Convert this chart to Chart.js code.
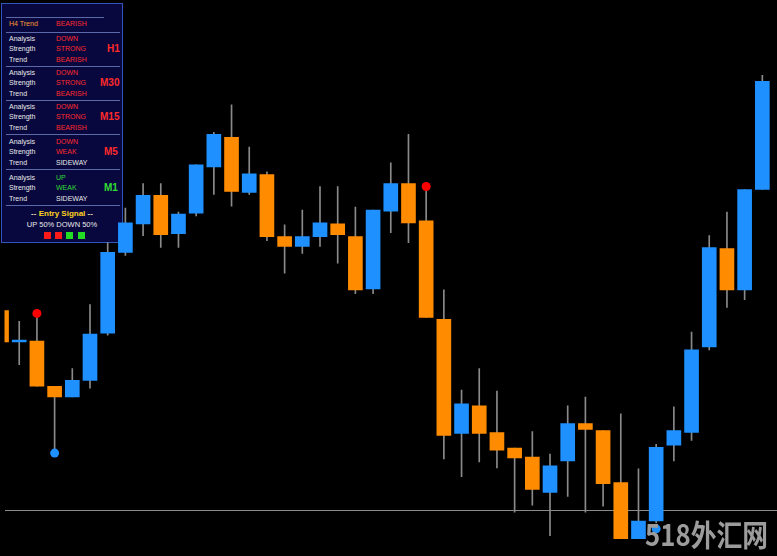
<!DOCTYPE html>
<html>
<head>
<meta charset="utf-8">
<script src="https://cdn.jsdelivr.net/npm/chart.js@4.4.1/dist/chart.umd.min.js"></script>
<style>
html, body { margin: 0; padding: 0; background: #000; overflow: hidden; }
#wrap { position: relative; width: 777px; height: 556px; }
#priceChart { position: absolute; left: 0; top: 0; z-index: 2; }
#panel {
    position: absolute; left: 1px; top: 3px; width: 120px; height: 238px; z-index: 1;
    background: #08083f; border: 1px solid #3355bb;
    font-family: "Liberation Sans", Arial, sans-serif; font-size: 7px; color: #e8e8e8;
}
#panel div { position: absolute; white-space: nowrap; line-height: 8px; }
#panel .sep { height: 1px; background: #5a6aa8; left: 4px; width: 114px; }
#panel .red { color: #ff2a2a; }
#panel .green { color: #33dd33; }
#panel .tf { font-size: 10px; font-weight: bold; line-height: 10px; }
#panel .sq { width: 7px; height: 7px; }
</style>
</head>
<body>
<div id="wrap">
<div id="panel"></div>
<canvas id="priceChart" width="777" height="556"></canvas>
</div>
<script>
// OHLC per bar (price units), oldest first
const opens  = [1968.9, 1965.7, 1965.8, 1961.2, 1960.1, 1961.8, 1966.6, 1974.8, 1977.7, 1980.6,
                1976.7, 1978.8, 1983.5, 1986.5, 1980.9, 1982.7, 1976.4, 1975.4, 1976.4, 1977.7,
                1976.4, 1971.1, 1979.0, 1981.8, 1978.0, 1968.0, 1956.4, 1959.2, 1956.5, 1954.9,
                1954.0, 1950.4, 1953.6, 1957.4, 1956.7, 1951.4, 1945.7, 1947.5, 1955.2, 1956.5,
                1965.2, 1975.2, 1971.0, 1981.2];
const highs  = [1969.4, 1967.8, 1968.2, 1961.2, 1963.0, 1969.5, 1975.8, 1979.3, 1981.8, 1981.8,
                1978.9, 1983.7, 1987.0, 1989.8, 1985.5, 1983.0, 1977.6, 1979.1, 1981.5, 1981.5,
                1979.4, 1979.1, 1983.9, 1986.8, 1981.0, 1971.0, 1960.8, 1963.0, 1960.7, 1954.9,
                1956.6, 1954.3, 1959.2, 1960.1, 1956.7, 1958.4, 1952.8, 1955.3, 1959.1, 1966.7,
                1976.5, 1978.9, 1981.2, 1992.8];
const lows   = [1965.7, 1963.4, 1961.2, 1954.8, 1960.1, 1961.0, 1966.4, 1974.5, 1976.5, 1975.3,
                1975.3, 1978.5, 1980.7, 1979.5, 1980.7, 1976.0, 1972.7, 1974.7, 1975.4, 1973.7,
                1970.6, 1970.6, 1976.8, 1975.8, 1968.2, 1953.8, 1952.0, 1953.5, 1952.9, 1948.4,
                1949.1, 1946.0, 1950.0, 1948.4, 1949.0, 1945.7, 1945.7, 1947.3, 1953.6, 1955.7,
                1964.9, 1969.2, 1970.0, 1981.2];
const closes = [1965.7, 1965.9, 1961.2, 1960.1, 1961.8, 1966.5, 1974.8, 1977.8, 1980.6, 1976.6,
                1978.7, 1983.7, 1986.8, 1981.0, 1982.8, 1976.4, 1975.4, 1976.4, 1977.8, 1976.6,
                1971.0, 1979.1, 1981.8, 1977.8, 1968.2, 1956.2, 1959.4, 1956.4, 1954.7, 1953.9,
                1950.7, 1953.1, 1957.4, 1956.8, 1951.3, 1945.7, 1947.5, 1955.0, 1956.7, 1964.9,
                1975.3, 1971.0, 1981.2, 1992.2];

// signal arrows (bar index, price)
const sellSignals = [{ x: 2, y: 1968.6 }, { x: 24, y: 1981.5 }];
const buySignals  = [{ x: 3, y: 1954.4 }, { x: 37, y: 1946.7 }];
const levelPrice = 1948.6;

const upColor = '#1e90ff';
const downColor = '#ff8c00';

const bodies = opens.map((o, i) => ({ x: i, y: [o, closes[i]] }));
const wicks = lows.map((l, i) => ({ x: i, y: [l, highs[i]] }));
const bodyColors = opens.map((o, i) => closes[i] >= o ? upColor : downColor);

const extras = {
    id: 'extras',
    beforeDatasetsDraw(chart) {
        const ctx = chart.ctx;
        const y = Math.round(chart.scales.y.getPixelForValue(levelPrice)) + 0.5;
        ctx.save();
        ctx.strokeStyle = '#8a8a8a';
        ctx.lineWidth = 1;
        ctx.beginPath();
        ctx.moveTo(5, y);
        ctx.lineTo(chart.width, y);
        ctx.stroke();
        ctx.restore();
    },
    afterDraw(chart) {
        const ctx = chart.ctx;
        ctx.save();
        ctx.font = 'bold 30px "Noto Sans CJK SC", sans-serif';
        ctx.fillStyle = '#9c9c9c';
        ctx.textBaseline = 'alphabetic';
        const txt = '518外汇网';
        const w = ctx.measureText(txt).width;
        ctx.translate(645, 546);
        ctx.scale(123 / w, 1);
        ctx.fillText(txt, 0, 0);
        ctx.restore();
    }
};

new Chart(document.getElementById('priceChart').getContext('2d'), {
    data: {
        datasets: [
            {
                type: 'bar',
                data: wicks,
                backgroundColor: '#8a8a8a',
                barThickness: 1,
                grouped: false,
                order: 3
            },
            {
                type: 'bar',
                data: bodies,
                backgroundColor: bodyColors,
                barThickness: 14,
                grouped: false,
                borderSkipped: false,
                order: 2
            },
            {
                type: 'scatter',
                data: sellSignals,
                pointRadius: 4.5,
                pointBackgroundColor: '#ff0000',
                pointBorderWidth: 0,
                order: 1
            },
            {
                type: 'scatter',
                data: buySignals,
                pointRadius: 4.5,
                pointBackgroundColor: '#1e90ff',
                pointBorderWidth: 0,
                order: 1
            }
        ]
    },
    options: {
        responsive: false,
        animation: false,
        layout: { padding: 0 },
        plugins: { legend: { display: false }, tooltip: { enabled: false } },
        scales: {
            x: { type: 'linear', min: 0.1676, max: 43.575, offset: false, display: false },
            y: { min: 1944.4, max: 2000, display: false }
        }
    },
    plugins: [extras]
});

// signal panel
const panel = document.getElementById('panel');
function put(text, x, y, cls, color) {
    const d = document.createElement('div');
    d.textContent = text;
    d.style.left = x + 'px';
    d.style.top = y + 'px';
    if (cls) d.className = cls;
    if (color) d.style.color = color;
    panel.appendChild(d);
    return d;
}
function sep(y, x, w) {
    const d = document.createElement('div');
    d.className = 'sep';
    d.style.top = y + 'px';
    if (x !== undefined) { d.style.left = x + 'px'; d.style.width = w + 'px'; }
    panel.appendChild(d);
}

const frames = ['H1', 'M30', 'M15', 'M5', 'M1'];
const analysis = ['DOWN', 'DOWN', 'DOWN', 'DOWN', 'UP'];
const strength = ['STRONG', 'STRONG', 'STRONG', 'WEAK', 'WEAK'];
const trend = ['BEARISH', 'BEARISH', 'BEARISH', 'SIDEWAY', 'SIDEWAY'];
const frameColor = ['red', 'red', 'red', 'red', 'green'];
const rowTops = [31, 65, 99, 134, 170];

sep(13, 4, 98);
put('H4 Trend', 7, 16, null, '#ff9a30');
put('BEARISH', 54, 16, 'red');
sep(28);
frames.forEach((f, k) => {
    const t = rowTops[k];
    const c = frameColor[k];
    put('Analysis', 7, t);
    put(analysis[k], 54, t, c);
    put('Strength', 7, t + 10);
    put(strength[k], 54, t + 10, c);
    put('Trend', 7, t + 21);
    put(trend[k], 54, t + 21, trend[k] === 'SIDEWAY' ? null : c);
    put(f, f.length > 2 ? 98 : (f === 'H1' ? 105 : 102), t + 9, 'tf ' + c);
    sep(t + 31);
});
const es = put('', 0, 206);
es.style.width = '120px';
es.style.textAlign = 'center';
es.style.fontSize = '8px';
es.style.fontWeight = 'bold';
es.innerHTML = '<span style="color:#e8e0b0">-- </span><span style="color:#ffd21e">Entry Signal</span><span style="color:#e8e0b0"> --</span>';
const ud = put('UP 50%   DOWN 50%', 0, 217);
ud.style.width = '120px';
ud.style.textAlign = 'center';
ud.style.fontSize = '7.5px';
const sqColors = ['#ff1a1a', '#ff1a1a', '#22dd22', '#22dd22'];
const sqLeft = [42, 53, 64, 76];
sqColors.forEach((c, k) => {
    const s = put('', sqLeft[k], 228, 'sq');
    s.style.background = c;
});
</script>
</body>
</html>
